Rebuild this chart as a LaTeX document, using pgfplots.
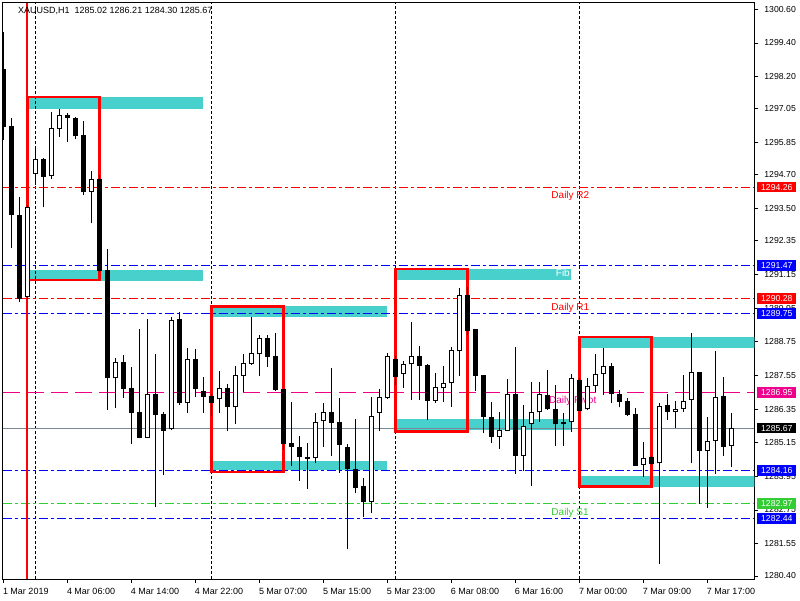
\documentclass[border=0pt]{standalone}
\usepackage{fontspec}
\setmainfont{Liberation Sans}
\usepackage{pgfplots}
\usepackage{pgfplotstable}
\pgfplotsset{compat=1.18}
\definecolor{turq}{HTML}{48D1CC}
\definecolor{lgreen}{HTML}{32CD32}
\definecolor{slgray}{HTML}{778899}

\pgfplotstableread{
x o h l c
0 1298.47 1299.79 1295.94 1296.40
1 1296.44 1296.72 1292.09 1293.27
2 1293.27 1293.91 1290.16 1290.27
3 1290.35 1293.62 1290.27 1293.54
4 1294.72 1295.62 1294.33 1295.25
5 1295.25 1295.30 1293.54 1294.63
6 1294.67 1296.93 1294.55 1296.36
7 1296.32 1297.04 1296.06 1296.82
8 1296.83 1296.89 1295.88 1296.71
9 1296.73 1296.76 1295.97 1296.08
10 1296.12 1296.62 1293.98 1294.10
11 1294.10 1294.82 1292.97 1294.54
12 1294.55 1294.69 1291.23 1291.28
13 1291.30 1292.05 1286.31 1287.46
14 1287.44 1288.16 1286.37 1288.01
15 1288.01 1288.27 1286.75 1287.07
16 1287.09 1287.85 1285.09 1286.22
17 1286.23 1289.20 1285.31 1285.33
18 1285.33 1289.56 1285.31 1286.87
19 1286.87 1288.31 1282.87 1286.13
20 1286.17 1286.24 1284.00 1285.58
21 1285.63 1289.64 1285.60 1289.52
22 1289.56 1289.80 1286.49 1286.55
23 1286.57 1288.52 1286.20 1288.12
24 1288.12 1288.49 1286.79 1287.05
25 1287.01 1287.48 1286.22 1286.79
26 1286.81 1286.88 1286.10 1286.57
27 1286.69 1287.71 1286.22 1287.09
28 1287.10 1287.24 1285.58 1286.43
29 1286.43 1287.88 1285.81 1287.56
30 1287.54 1288.31 1286.94 1287.98
31 1287.96 1289.64 1287.92 1288.33
32 1288.30 1288.99 1287.54 1288.87
33 1288.87 1288.99 1287.86 1288.21
34 1288.24 1289.07 1287.00 1287.03
35 1287.06 1287.06 1284.89 1285.11
36 1285.15 1286.59 1284.33 1285.00
37 1284.99 1285.39 1283.79 1284.65
38 1284.64 1285.15 1283.49 1284.57
39 1284.59 1286.21 1284.43 1285.87
40 1285.91 1286.56 1285.00 1286.23
41 1286.23 1287.82 1284.68 1285.86
42 1285.87 1286.74 1284.08 1285.08
43 1284.98 1285.10 1281.35 1284.21
44 1284.21 1285.99 1283.34 1283.54
45 1283.60 1283.88 1282.51 1283.04
46 1283.04 1286.79 1282.63 1286.10
47 1286.20 1287.06 1285.58 1286.79
48 1286.75 1288.36 1286.71 1288.24
49 1288.13 1288.25 1287.20 1287.50
50 1287.61 1288.06 1287.11 1287.94
51 1287.94 1289.45 1286.67 1288.23
52 1288.24 1288.60 1286.67 1287.89
53 1287.92 1287.95 1285.96 1286.65
54 1286.65 1287.64 1286.57 1287.13
55 1287.09 1287.88 1286.59 1287.28
56 1287.27 1288.55 1286.43 1288.45
57 1288.43 1290.67 1287.53 1290.40
58 1290.41 1290.70 1288.99 1289.14
59 1289.20 1289.20 1286.99 1287.54
60 1287.56 1287.56 1285.48 1286.05
61 1286.06 1286.59 1285.15 1285.36
62 1285.36 1286.24 1284.92 1285.59
63 1285.58 1287.43 1285.57 1286.88
64 1286.88 1288.55 1284.03 1284.68
65 1284.68 1286.49 1284.14 1285.74
66 1285.80 1287.31 1283.62 1286.23
67 1286.23 1287.30 1285.89 1286.88
68 1286.85 1287.74 1286.31 1286.34
69 1286.35 1287.20 1285.04 1285.80
70 1285.80 1286.21 1285.03 1285.87
71 1285.87 1287.60 1285.54 1287.44
72 1287.38 1287.46 1286.28 1286.29
73 1286.34 1287.44 1286.30 1287.17
74 1287.17 1288.30 1286.97 1287.60
75 1287.59 1288.51 1286.84 1287.87
76 1287.88 1287.99 1286.57 1286.87
77 1286.87 1287.03 1286.41 1286.61
78 1286.63 1286.74 1286.10 1286.13
79 1286.17 1286.37 1284.32 1284.33
80 1284.34 1285.16 1283.94 1284.60
81 1284.64 1284.67 1284.35 1284.39
82 1284.41 1286.55 1280.81 1286.45
83 1286.49 1286.88 1285.96 1286.25
84 1286.25 1286.63 1285.68 1286.35
85 1286.34 1287.56 1286.25 1286.63
86 1286.66 1289.05 1284.41 1287.67
87 1287.67 1287.67 1282.96 1284.86
88 1284.86 1286.07 1282.81 1285.20
89 1285.20 1288.42 1284.03 1286.77
90 1286.81 1287.49 1284.67 1285.00
91 1285.02 1286.21 1284.30 1285.67
}\candles

\tikzset{
  dashdot/.style={line width=1pt, dash pattern=on 9pt off 3pt on 3pt off 3pt},
  valbox/.style={anchor=west, inner sep=0pt, minimum width=38.7pt, minimum height=10.7pt,
    text=white, font=\fontsize{8.7}{10}\selectfont, xshift=3pt},
  lvl/.style={anchor=base west, font=\fontsize{10}{12}\selectfont, yshift=-11.3pt, inner sep=0pt},
}

\begin{document}
\begin{tikzpicture}
\useasboundingbox (-2.7pt,-21pt) rectangle (797.3pt,579pt);
\begin{axis}[
  at={(0,0)}, anchor=south west,
  scale only axis, width=751.6pt, height=576.3pt,
  xmin=-0.075, xmax=93.875, ymin=1280.29, ymax=1300.835,
  axis line style={black, line width=1pt},
  tick align=outside,
  major tick length=3.5pt,
  tick style={black, line width=0.8pt},
  xtick pos=bottom, ytick pos=right, yticklabel pos=right,
  xtick={0,8,...,88},
  xticklabels={1 Mar 2019,4 Mar 06:00,4 Mar 14:00,4 Mar 22:00,5 Mar 07:00,5 Mar 15:00,5 Mar 23:00,6 Mar 08:00,6 Mar 16:00,7 Mar 00:00,7 Mar 09:00,7 Mar 17:00},
  ytick={1280.40,1281.55,1282.75,1283.95,1285.15,1286.35,1287.55,1288.75,1289.95,1291.15,1292.35,1293.50,1294.70,1295.85,1297.05,1298.20,1299.40,1300.60},
  yticklabels={1280.40,1281.55,1282.75,1283.95,1285.15,1286.35,1287.55,1288.75,1289.95,1291.15,1292.35,1293.50,1294.70,1295.85,1297.05,1298.20,1299.40,1300.60},
  xticklabel style={anchor=north west, inner sep=0pt, xshift=-0.5pt, yshift=-6pt, font=\fontsize{9}{10}\selectfont},
  yticklabel style={anchor=west, inner sep=0pt, xshift=6.4pt, font=\fontsize{8.7}{10}\selectfont},
]
% cyan zones
\addplot [fill=turq, draw=none, forget plot] coordinates {(3,1297.06) (25,1297.06) (25,1297.47) (3,1297.47)} -- cycle;
\addplot [fill=turq, draw=none, forget plot] coordinates {(3,1290.92) (25,1290.92) (25,1291.30) (3,1291.30)} -- cycle;
\addplot [fill=turq, draw=none, forget plot] coordinates {(26,1289.64) (48,1289.64) (48,1290.02) (26,1290.02)} -- cycle;
\addplot [fill=turq, draw=none, forget plot] coordinates {(26,1284.17) (48,1284.17) (48,1284.50) (26,1284.50)} -- cycle;
\addplot [fill=turq, draw=none, forget plot] coordinates {(49,1290.95) (71,1290.95) (71,1291.34) (49,1291.34)} -- cycle;
\addplot [fill=turq, draw=none, forget plot] coordinates {(49,1285.60) (71,1285.60) (71,1285.99) (49,1285.99)} -- cycle;
\addplot [fill=turq, draw=none, forget plot] coordinates {(72,1288.53) (94,1288.53) (94,1288.91) (72,1288.91)} -- cycle;
\addplot [fill=turq, draw=none, forget plot] coordinates {(72,1283.58) (94,1283.58) (94,1283.96) (72,1283.96)} -- cycle;
% day separators
\addplot [black, line width=0.8pt, dash pattern=on 3pt off 2pt, forget plot] coordinates {(4,1280.29) (4,1300.835)};
\addplot [black, line width=0.8pt, dash pattern=on 3pt off 2pt, forget plot] coordinates {(26,1280.29) (26,1300.835)};
\addplot [black, line width=0.8pt, dash pattern=on 3pt off 2pt, forget plot] coordinates {(49,1280.29) (49,1300.835)};
\addplot [black, line width=0.8pt, dash pattern=on 3pt off 2pt, forget plot] coordinates {(72,1280.29) (72,1300.835)};
% horizontal levels
\addplot [red, dashdot, forget plot] coordinates {(-0.075,1294.26) (93.875,1294.26)};
\addplot [blue, dashdot, forget plot] coordinates {(-0.075,1291.47) (93.875,1291.47)};
\addplot [red, dashdot, forget plot] coordinates {(-0.075,1290.28) (93.875,1290.28)};
\addplot [blue, dashdot, forget plot] coordinates {(-0.075,1289.75) (93.875,1289.75)};
\addplot [magenta, line width=1pt, dash pattern=on 17pt off 7pt, forget plot] coordinates {(-0.075,1286.95) (93.875,1286.95)};
\addplot [slgray, line width=1pt, forget plot] coordinates {(-0.075,1285.67) (93.875,1285.67)};
\addplot [blue, dashdot, forget plot] coordinates {(-0.075,1284.16) (93.875,1284.16)};
\addplot [lgreen, dashdot, forget plot] coordinates {(-0.075,1282.97) (93.875,1282.97)};
\addplot [blue, dashdot, forget plot] coordinates {(-0.075,1282.44) (93.875,1282.44)};
% red vertical line
\addplot [red, line width=2pt, forget plot] coordinates {(2.93,1280.29) (2.93,1300.835)};
% red boxes
\addplot [draw=red, line width=2.7pt, forget plot] coordinates {(3,1297.47) (12,1297.47) (12,1290.95) (3,1290.95)} -- cycle;
\addplot [draw=red, line width=2.7pt, forget plot] coordinates {(26,1290.01) (35,1290.01) (35,1284.10) (26,1284.10)} -- cycle;
\addplot [draw=red, line width=2.7pt, forget plot] coordinates {(49,1291.34) (58,1291.34) (58,1285.56) (49,1285.56)} -- cycle;
\addplot [draw=red, line width=2.7pt, forget plot] coordinates {(72,1288.92) (81,1288.92) (81,1283.58) (72,1283.58)} -- cycle;
% level texts
\node[lvl, text=red] at (axis cs:68.5,1294.26) {Daily R2};
\node[lvl, text=red] at (axis cs:68.5,1290.28) {Daily R1};
\node[lvl, text=magenta] at (axis cs:68.2,1286.95) {Daily Pivot};
\node[lvl, text=lgreen] at (axis cs:68.5,1282.97) {Daily S1};
\node[anchor=base west, inner sep=0pt, text=white, font=\fontsize{10}{12}\selectfont] at (axis cs:69.05,1291.09) {Fib};
% candles: wicks
\addplot [draw=none, mark=none, forget plot,
  error bars/.cd, y dir=plus, y explicit, error mark=none,
  error bar style={draw=black, solid, line width=1pt}]
  table [x=x, y=l, y error plus expr=\thisrow{h}-\thisrow{l}] {\candles};
% bodies (outline / black fill)
\addplot [draw=none, mark=none, forget plot,
  error bars/.cd, y dir=plus, y explicit, error mark=none,
  error bar style={draw=black, solid, line width=5pt}]
  table [x=x, y expr={min(\thisrow{o},\thisrow{c})}, y error plus expr={abs(\thisrow{o}-\thisrow{c})}] {\candles};
% white interior of rising candles
\addplot [draw=none, mark=none, forget plot,
  restrict expr to domain={\thisrow{c}-\thisrow{o}}{0.08:100},
  error bars/.cd, y dir=plus, y explicit, error mark=none,
  error bar style={draw=white, solid, line width=3pt}]
  table [x=x, y expr={\thisrow{o}+0.036}, y error plus expr={\thisrow{c}-\thisrow{o}-0.072}] {\candles};
% coordinates for price boxes
\coordinate (b1) at (axis cs:93.875,1294.26);
\coordinate (b2) at (axis cs:93.875,1291.47);
\coordinate (b3) at (axis cs:93.875,1290.28);
\coordinate (b4) at (axis cs:93.875,1289.75);
\coordinate (b5) at (axis cs:93.875,1286.95);
\coordinate (b6) at (axis cs:93.875,1285.67);
\coordinate (b7) at (axis cs:93.875,1284.16);
\coordinate (b8) at (axis cs:93.875,1282.97);
\coordinate (b9) at (axis cs:93.875,1282.44);
\end{axis}
\node[valbox, fill=red] at (b1) {1294.26};
\node[valbox, fill=blue] at (b2) {1291.47};
\node[valbox, fill=red] at (b3) {1290.28};
\node[valbox, fill=blue] at (b4) {1289.75};
\node[valbox, fill=magenta] at (b5) {1286.95};
\node[valbox, fill=black] at (b6) {1285.67};
\node[valbox, fill=blue] at (b7) {1284.16};
\node[valbox, fill=lgreen] at (b8) {1282.97};
\node[valbox, fill=blue] at (b9) {1282.44};
% header
\fill (4,569.7) -- (9.6,569.7) -- (6.8,566.5) -- cycle;
\node[anchor=base west, inner sep=0pt, font=\fontsize{9}{10}\selectfont] at (15.3pt,565pt) {XAUUSD,H1\ \ 1285.02\ 1286.21\ 1284.30\ 1285.67};
\end{tikzpicture}
\end{document}
